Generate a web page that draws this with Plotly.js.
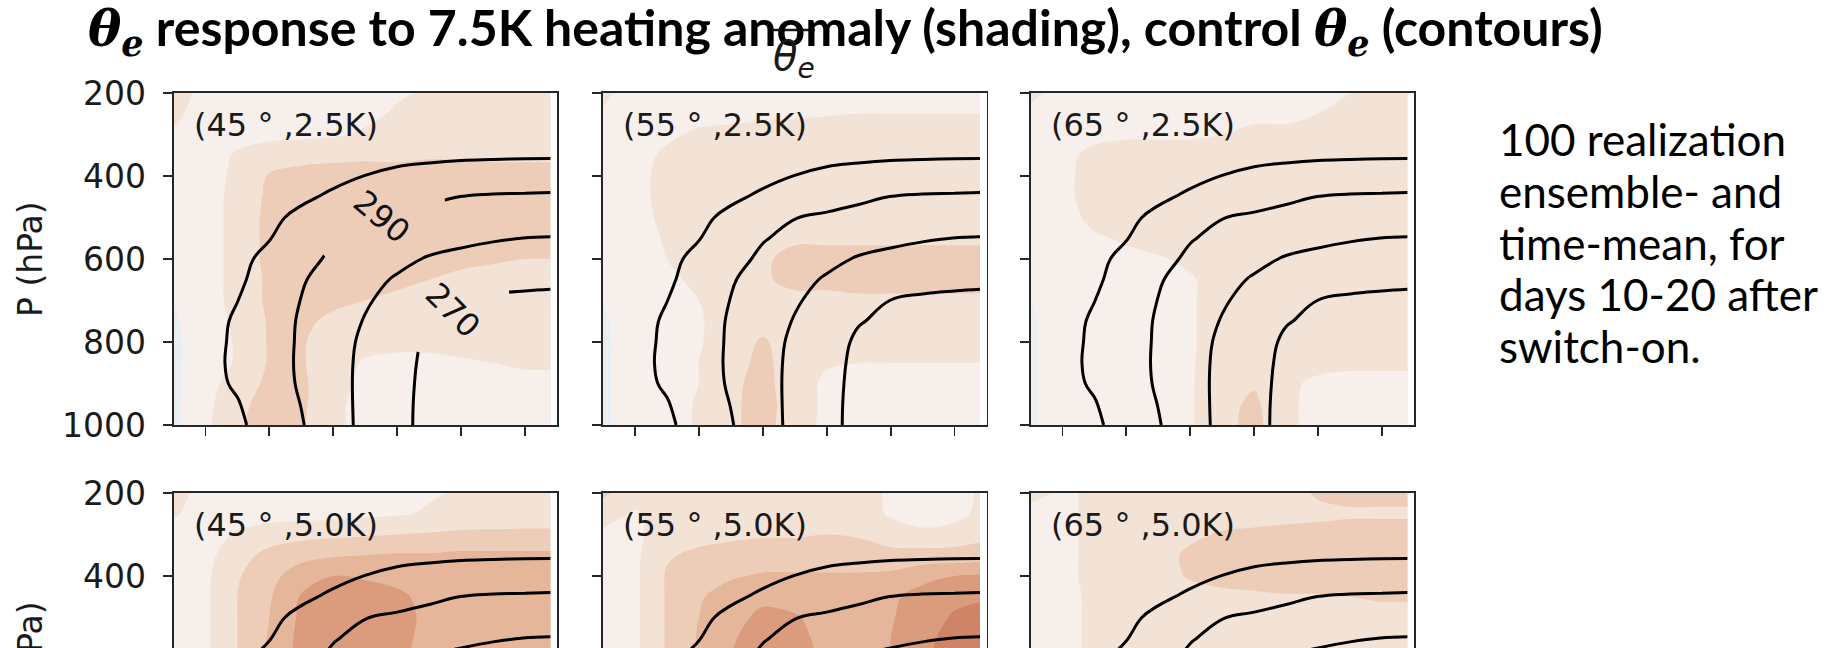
<!DOCTYPE html>
<html>
<head>
<meta charset="utf-8">
<script src="https://cdn.plot.ly/plotly-3.0.1.min.js"></script>
<style>
  html, body { margin: 0; padding: 0; background: #ffffff; }
  #chart { width: 1827px; height: 648px; }
</style>
</head>
<body>
<div id="chart"></div>
<script>
// ---------------- DATA ----------------
const lat = [15, 20, 25, 30, 35, 40, 45, 50, 55, 60, 65, 70, 74];
const presFull = [200, 250, 300, 350, 400, 450, 500, 550, 600, 650, 700, 750, 800, 850, 900, 950, 1000];
const presUpper = [200, 250, 300, 350, 400, 450, 500, 550, 600, 650];
const xTickVals = [20, 30, 40, 50, 60, 70];
const yTickVals = [200, 400, 600, 800, 1000];
const panelLabels = ['(45 ° ,2.5K)', '(55 ° ,2.5K)', '(65 ° ,2.5K)', '(45 ° ,5.0K)', '(55 ° ,5.0K)', '(65 ° ,5.0K)'];
const controlLevels = [270, 280, 290, 300];
const shadeLevels = [-0.5, 0, 0.5, 1.0, 1.5, 2.0, 2.5, 3.0];
const sideNote = ['100 realization', 'ensemble- and', 'time-mean, for', 'days 10-20 after', 'switch-on.'];
// contour labels of the first panel: level, latitude, pressure
const contourLabelText = ['290', '270'];
const contourLabelLat = [47.6, 58.6];
const contourLabelPres = [499, 724];

// control theta_e (K), rows = presFull, cols = lat
const thetaControl = [
  [307.5, 307.4, 307.3, 307.2, 307.0, 306.8, 306.5, 306.2, 306.0, 305.8, 305.6, 305.5, 305.5],
  [307.0, 306.9, 306.8, 306.6, 306.4, 306.1, 305.8, 305.4, 305.1, 304.8, 304.6, 304.5, 304.5],
  [306.5, 306.3, 306.1, 305.9, 305.6, 305.3, 304.8, 304.2, 303.7, 303.4, 303.2, 303.0, 303.0],
  [306.0, 305.6, 305.3, 305.0, 304.5, 304.0, 303.3, 302.5, 301.8, 301.4, 301.2, 301.0, 301.0],
  [305.5, 305.2, 304.8, 304.0, 303.5, 301.7, 299.9, 298.0, 297.0, 295.9, 295.4, 295.1, 294.8],
  [305.2, 304.8, 304.0, 303.0, 301.2, 298.9, 296.6, 294.3, 292.0, 289.9, 289.2, 289.0, 288.8],
  [305.0, 304.0, 303.0, 301.5, 298.4, 294.3, 290.2, 288.5, 286.7, 285.6, 284.7, 284.5, 284.2],
  [304.5, 303.5, 302.0, 300.3, 295.4, 290.5, 288.0, 286.0, 284.0, 282.2, 280.8, 279.9, 279.7],
  [304.5, 303.5, 302.0, 298.0, 292.7, 288.5, 285.5, 282.4, 279.2, 277.5, 276.2, 276.0, 275.7],
  [304.0, 303.0, 301.5, 296.1, 290.7, 286.7, 282.9, 279.0, 276.3, 273.9, 272.2, 272.0, 271.8],
  [303.5, 302.5, 300.1, 294.9, 289.8, 285.4, 280.9, 277.1, 273.5, 269.9, 269.0, 268.3, 267.9],
  [303.5, 302.5, 299.1, 294.1, 289.1, 284.3, 279.5, 275.0, 270.4, 268.5, 267.0, 266.2, 266.0],
  [303.5, 302.5, 298.7, 293.9, 288.9, 283.6, 278.4, 273.3, 268.8, 267.0, 265.8, 265.0, 264.5],
  [303.5, 302.5, 298.4, 293.7, 288.8, 283.4, 277.9, 272.3, 268.5, 266.5, 265.2, 264.0, 263.5],
  [303.5, 302.5, 299.0, 294.1, 289.0, 283.4, 277.7, 272.0, 268.3, 266.3, 265.0, 263.6, 263.0],
  [303.5, 302.5, 300.5, 295.3, 289.8, 283.7, 277.6, 271.8, 268.2, 266.2, 264.8, 263.3, 262.5],
  [304.0, 303.0, 301.5, 296.3, 290.6, 284.0, 277.6, 271.7, 268.2, 266.0, 264.5, 263.0, 262.0]
];

// theta_e response (K), 45 deg, 2.5K  (rows = presFull)
const anom45_25 = [
  [0.7, 0.35, 0.3, 0.3, 0.3, 0.3, 0.35, 0.45, 0.55, 0.65, 0.7, 0.7, 0.7],
  [0.6, 0.3, 0.3, 0.3, 0.3, 0.35, 0.4, 0.55, 0.65, 0.7, 0.75, 0.75, 0.75],
  [0.45, 0.3, 0.35, 0.4, 0.4, 0.45, 0.55, 0.7, 0.75, 0.8, 0.8, 0.8, 0.8],
  [0.35, 0.3, 0.55, 0.7, 0.8, 0.85, 0.9, 0.9, 0.95, 0.95, 0.95, 0.95, 0.95],
  [0.3, 0.3, 0.6, 1.05, 1.2, 1.25, 1.25, 1.2, 1.2, 1.15, 1.1, 1.1, 1.1],
  [0.3, 0.3, 0.65, 1.1, 1.3, 1.35, 1.35, 1.3, 1.3, 1.25, 1.2, 1.2, 1.2],
  [0.25, 0.3, 0.65, 1.15, 1.35, 1.4, 1.4, 1.35, 1.3, 1.3, 1.25, 1.25, 1.25],
  [0.2, 0.3, 0.65, 1.15, 1.35, 1.4, 1.4, 1.35, 1.3, 1.25, 1.2, 1.15, 1.15],
  [0.15, 0.3, 0.65, 1.15, 1.3, 1.35, 1.3, 1.25, 1.2, 1.1, 1.05, 1.0, 1.0],
  [0.1, 0.3, 0.65, 1.1, 1.25, 1.25, 1.2, 1.1, 1.0, 0.9, 0.85, 0.85, 0.85],
  [0.0, 0.3, 0.65, 1.1, 1.2, 1.1, 1.0, 0.9, 0.85, 0.8, 0.8, 0.8, 0.8],
  [-0.05, 0.25, 0.6, 1.05, 1.1, 0.9, 0.8, 0.75, 0.75, 0.75, 0.75, 0.75, 0.75],
  [-0.1, 0.25, 0.55, 1.05, 1.05, 0.75, 0.65, 0.6, 0.6, 0.65, 0.7, 0.7, 0.7],
  [-0.1, 0.25, 0.55, 1.05, 1.05, 0.7, 0.45, 0.4, 0.4, 0.45, 0.5, 0.55, 0.55],
  [-0.1, 0.3, 0.75, 1.1, 1.1, 0.65, 0.4, 0.35, 0.35, 0.35, 0.4, 0.4, 0.4],
  [-0.1, 0.35, 0.9, 1.15, 1.1, 0.6, 0.35, 0.3, 0.3, 0.3, 0.35, 0.35, 0.35],
  [-0.1, 0.4, 0.95, 1.15, 1.05, 0.6, 0.35, 0.3, 0.3, 0.3, 0.3, 0.3, 0.3]
];

// 55 deg, 2.5K
const anom55_25 = [
  [0.6, 0.3, 0.35, 0.35, 0.35, 0.35, 0.4, 0.4, 0.45, 0.45, 0.45, 0.45, 0.45],
  [0.45, 0.3, 0.35, 0.4, 0.4, 0.45, 0.45, 0.48, 0.5, 0.5, 0.5, 0.5, 0.5],
  [0.3, 0.35, 0.45, 0.55, 0.6, 0.6, 0.65, 0.65, 0.65, 0.65, 0.65, 0.65, 0.65],
  [0.3, 0.4, 0.55, 0.65, 0.7, 0.7, 0.7, 0.7, 0.7, 0.7, 0.7, 0.7, 0.7],
  [0.25, 0.4, 0.6, 0.7, 0.75, 0.75, 0.75, 0.75, 0.75, 0.75, 0.75, 0.75, 0.75],
  [0.2, 0.4, 0.6, 0.7, 0.75, 0.8, 0.8, 0.8, 0.8, 0.8, 0.8, 0.8, 0.8],
  [0.15, 0.35, 0.6, 0.7, 0.75, 0.8, 0.85, 0.85, 0.85, 0.85, 0.85, 0.85, 0.85],
  [0.1, 0.3, 0.55, 0.7, 0.75, 0.9, 0.95, 0.95, 0.95, 0.95, 0.95, 0.95, 0.95],
  [0.05, 0.3, 0.5, 0.65, 0.75, 0.95, 1.1, 1.1, 1.1, 1.1, 1.1, 1.1, 1.1],
  [0.0, 0.25, 0.4, 0.6, 0.75, 0.95, 1.1, 1.1, 1.1, 1.1, 1.1, 1.1, 1.1],
  [0.0, 0.2, 0.35, 0.5, 0.7, 0.8, 0.9, 0.9, 0.95, 0.95, 0.95, 0.95, 0.95],
  [-0.05, 0.2, 0.3, 0.45, 0.75, 0.85, 0.75, 0.7, 0.7, 0.7, 0.7, 0.7, 0.7],
  [-0.05, 0.15, 0.3, 0.45, 0.8, 1.05, 0.8, 0.65, 0.65, 0.65, 0.65, 0.65, 0.65],
  [-0.05, 0.15, 0.3, 0.5, 0.85, 1.1, 0.8, 0.55, 0.5, 0.5, 0.5, 0.5, 0.5],
  [-0.05, 0.15, 0.3, 0.5, 0.9, 1.15, 0.75, 0.4, 0.35, 0.35, 0.35, 0.35, 0.4],
  [-0.05, 0.15, 0.3, 0.55, 0.9, 1.2, 0.75, 0.4, 0.3, 0.3, 0.3, 0.3, 0.35],
  [-0.05, 0.15, 0.3, 0.55, 0.9, 1.2, 0.7, 0.4, 0.3, 0.3, 0.3, 0.3, 0.35]
];

// 65 deg, 2.5K
const anom65_25 = [
  [0.6, 0.35, 0.3, 0.3, 0.3, 0.3, 0.35, 0.35, 0.4, 0.45, 0.5, 0.55, 0.6],
  [0.4, 0.35, 0.35, 0.35, 0.4, 0.4, 0.4, 0.45, 0.45, 0.5, 0.55, 0.6, 0.6],
  [0.3, 0.35, 0.4, 0.45, 0.45, 0.45, 0.5, 0.55, 0.55, 0.6, 0.6, 0.65, 0.65],
  [0.3, 0.4, 0.6, 0.65, 0.65, 0.65, 0.65, 0.65, 0.65, 0.65, 0.65, 0.65, 0.65],
  [0.3, 0.4, 0.65, 0.7, 0.7, 0.7, 0.7, 0.7, 0.7, 0.7, 0.7, 0.7, 0.7],
  [0.25, 0.4, 0.65, 0.75, 0.75, 0.75, 0.75, 0.75, 0.75, 0.75, 0.75, 0.75, 0.75],
  [0.2, 0.35, 0.6, 0.75, 0.8, 0.8, 0.8, 0.8, 0.8, 0.8, 0.8, 0.8, 0.8],
  [0.15, 0.3, 0.45, 0.55, 0.7, 0.8, 0.8, 0.8, 0.8, 0.8, 0.8, 0.8, 0.8],
  [0.1, 0.25, 0.35, 0.4, 0.45, 0.6, 0.75, 0.8, 0.8, 0.8, 0.8, 0.8, 0.8],
  [0.05, 0.25, 0.35, 0.4, 0.4, 0.45, 0.7, 0.8, 0.8, 0.8, 0.8, 0.8, 0.8],
  [0.0, 0.2, 0.35, 0.4, 0.4, 0.45, 0.7, 0.8, 0.8, 0.8, 0.8, 0.8, 0.8],
  [-0.05, 0.2, 0.35, 0.4, 0.4, 0.45, 0.7, 0.8, 0.8, 0.8, 0.8, 0.8, 0.8],
  [-0.05, 0.2, 0.3, 0.4, 0.4, 0.45, 0.7, 0.8, 0.8, 0.75, 0.75, 0.75, 0.75],
  [-0.05, 0.2, 0.3, 0.4, 0.4, 0.45, 0.75, 0.85, 0.75, 0.65, 0.6, 0.6, 0.6],
  [-0.05, 0.2, 0.3, 0.4, 0.4, 0.45, 0.8, 0.95, 0.6, 0.4, 0.35, 0.35, 0.35],
  [-0.05, 0.2, 0.3, 0.4, 0.4, 0.45, 0.85, 1.1, 0.6, 0.35, 0.3, 0.3, 0.3],
  [-0.05, 0.2, 0.3, 0.4, 0.4, 0.45, 0.85, 1.15, 0.6, 0.35, 0.3, 0.3, 0.3]
];

// 45 deg, 5.0K (rows = presUpper)
const anom45_50 = [
  [0.7, 0.3, 0.25, 0.25, 0.25, 0.25, 0.3, 0.35, 0.45, 0.55, 0.65, 0.7, 0.7],
  [0.55, 0.3, 0.3, 0.3, 0.3, 0.35, 0.4, 0.45, 0.55, 0.65, 0.7, 0.75, 0.75],
  [0.35, 0.3, 0.55, 0.75, 0.85, 0.9, 0.95, 1.0, 1.05, 1.1, 1.1, 1.1, 1.1],
  [0.3, 0.35, 0.8, 1.15, 1.35, 1.45, 1.5, 1.55, 1.55, 1.6, 1.6, 1.6, 1.6],
  [0.25, 0.4, 0.95, 1.35, 1.75, 2.0, 1.95, 1.85, 1.75, 1.7, 1.7, 1.7, 1.7],
  [0.2, 0.4, 1.0, 1.45, 2.05, 2.2, 2.2, 2.1, 1.85, 1.8, 1.8, 1.8, 1.8],
  [0.15, 0.4, 1.0, 1.5, 2.1, 2.25, 2.25, 2.15, 1.9, 1.85, 1.85, 1.85, 1.85],
  [0.1, 0.4, 1.0, 1.55, 2.15, 2.25, 2.25, 2.1, 1.9, 1.85, 1.85, 1.85, 1.85],
  [0.05, 0.4, 1.0, 1.6, 2.15, 2.25, 2.2, 2.05, 1.9, 1.85, 1.85, 1.85, 1.85],
  [0.0, 0.4, 1.0, 1.6, 2.1, 2.2, 2.2, 2.0, 1.9, 1.8, 1.8, 1.8, 1.8]
];

// 55 deg, 5.0K
const anom55_50 = [
  [1.1, 0.7, 0.65, 0.7, 0.7, 0.7, 0.7, 0.7, 0.65, 0.45, 0.3, 0.35, 0.55],
  [0.7, 0.45, 0.7, 0.75, 0.8, 0.8, 0.8, 0.8, 0.7, 0.45, 0.3, 0.35, 0.6],
  [0.4, 0.4, 0.75, 0.85, 0.9, 0.95, 0.95, 1.0, 0.95, 0.7, 0.6, 0.7, 0.85],
  [0.35, 0.4, 0.95, 1.1, 1.2, 1.25, 1.25, 1.25, 1.25, 1.2, 1.2, 1.2, 1.25],
  [0.3, 0.4, 1.05, 1.3, 1.45, 1.55, 1.55, 1.55, 1.55, 1.6, 1.85, 2.0, 2.05],
  [0.25, 0.4, 1.05, 1.45, 1.7, 1.9, 1.8, 1.7, 1.7, 1.9, 2.2, 2.4, 2.45],
  [0.2, 0.4, 1.05, 1.5, 1.85, 2.1, 2.05, 1.8, 1.75, 1.95, 2.3, 2.55, 2.65],
  [0.15, 0.4, 1.05, 1.55, 1.95, 2.2, 2.15, 1.85, 1.8, 2.0, 2.35, 2.7, 2.8],
  [0.1, 0.4, 1.05, 1.55, 2.0, 2.25, 2.2, 1.9, 1.8, 2.0, 2.4, 2.75, 2.85],
  [0.05, 0.4, 1.05, 1.55, 2.0, 2.25, 2.2, 1.9, 1.8, 2.0, 2.4, 2.75, 2.85]
];

// 65 deg, 5.0K
const anom65_50 = [
  [0.6, 0.45, 0.55, 0.6, 0.65, 0.7, 0.7, 0.75, 0.85, 1.05, 1.1, 1.1, 1.1],
  [0.4, 0.4, 0.6, 0.65, 0.7, 0.75, 0.75, 0.8, 0.85, 0.9, 0.95, 0.95, 0.95],
  [0.35, 0.4, 0.6, 0.7, 0.75, 0.9, 1.05, 1.1, 1.15, 1.15, 1.15, 1.15, 1.15],
  [0.3, 0.4, 0.6, 0.7, 0.8, 1.1, 1.25, 1.3, 1.3, 1.3, 1.3, 1.3, 1.3],
  [0.25, 0.4, 0.6, 0.7, 0.8, 1.05, 1.2, 1.25, 1.3, 1.3, 1.3, 1.3, 1.3],
  [0.2, 0.35, 0.6, 0.7, 0.75, 0.8, 0.85, 0.9, 0.95, 0.95, 1.0, 1.05, 1.05],
  [0.15, 0.35, 0.6, 0.7, 0.7, 0.75, 0.75, 0.8, 0.8, 0.8, 0.85, 0.85, 0.85],
  [0.1, 0.35, 0.6, 0.7, 0.7, 0.7, 0.75, 0.75, 0.75, 0.75, 0.8, 0.8, 0.8],
  [0.1, 0.35, 0.6, 0.7, 0.7, 0.7, 0.75, 0.75, 0.75, 0.75, 0.8, 0.8, 0.8],
  [0.1, 0.35, 0.6, 0.7, 0.7, 0.7, 0.75, 0.75, 0.75, 0.75, 0.8, 0.8, 0.8]
];

// ---------------- STYLE / LAYOUT ----------------
const W = 1827, H = 648;
const px = v => v / W;
const py = v => 1 - v / H;

// one colour per filled band (below -0.5, then each 0.5 K band, then above 3.0)
const bandColors = ['#dfe7ef', '#e9eef3', '#f6efeb', '#f3e2d6', '#edcdb7', '#e5b699', '#db9c7e', '#cf8367', '#c26c54'];
const fillScale = bandColors.map((c, i) => [i / (bandColors.length - 1), c]);

const colLeft = [173.5, 603, 1030.5];
const colRight = [557, 986.5, 1414];
const rowTop = [93, 493];
const topRowBottom = 425;
const lowerRange = 200 + (H - rowTop[1]) / (topRowBottom - rowTop[0]) * 800;

const anomData = [anom45_25, anom55_25, anom65_25, anom45_50, anom55_50, anom65_50];
const axisFont = { family: 'DejaVu Sans', size: 33, color: '#1a1a1a' };
const spine = '#262626';
const lineStyle = { color: '#000000', width: 3, smoothing: 1.2 };

const traces = [];
const layout = {
  width: W, height: H,
  margin: { l: 0, r: 0, t: 0, b: 0, autoexpand: false },
  paper_bgcolor: '#ffffff', plot_bgcolor: '#ffffff',
  showlegend: false, hovermode: false,
  font: { family: 'DejaVu Sans', color: '#1a1a1a' },
  title: {
    text: '<b><span style="font-family:\'DejaVu Serif\'"><i>θ</i><sub><i>e</i></sub></span> response to 7.5K heating anomaly (shading), control <span style="font-family:\'DejaVu Serif\'"><i>θ</i><sub><i>e</i></sub></span> (contours)</b>',
    font: { family: 'Lato', size: 50, color: '#000000' },
    xref: 'container', yref: 'container',
    x: px(88), xanchor: 'left',
    y: py(28), yanchor: 'middle'
  },
  annotations: [],
  shapes: []
};

for (let i = 0; i < 6; i++) {
  const row = i < 3 ? 0 : 1;
  const col = i % 3;
  const n = i + 1;
  const xa = 'x' + (n === 1 ? '' : n);
  const ya = 'y' + (n === 1 ? '' : n);
  const xName = 'xaxis' + (n === 1 ? '' : n);
  const yName = 'yaxis' + (n === 1 ? '' : n);
  const pres = row === 0 ? presFull : presUpper;

  traces.push({
    type: 'contour', x: lat, y: pres, z: anomData[i],
    xaxis: xa, yaxis: ya,
    autocontour: false,
    contours: { start: shadeLevels[0], end: shadeLevels[shadeLevels.length - 1], size: shadeLevels[1] - shadeLevels[0], coloring: 'fill', showlines: false },
    colorscale: fillScale, showscale: false,
    line: { width: 0, smoothing: 1.0 },
    hoverinfo: 'skip'
  });

  traces.push({
    type: 'contour', x: lat, y: presFull, z: thetaControl, xaxis: xa, yaxis: ya,
    autocontour: false,
    contours: { start: controlLevels[0], end: controlLevels[3], size: controlLevels[1] - controlLevels[0], coloring: 'none' },
    line: lineStyle, showscale: false, hoverinfo: 'skip'
  });

  const top = rowTop[row];
  const bottom = row === 0 ? topRowBottom : H;
  layout[xName] = {
    domain: [px(colLeft[col]), px(colRight[col])],
    range: [15, 75], autorange: false, anchor: ya,
    tickvals: xTickVals, showticklabels: false,
    ticks: row === 0 ? 'outside' : '', ticklen: 9, tickwidth: 1.8, tickcolor: spine,
    showline: true, linecolor: spine, linewidth: 1.8,
    mirror: row === 0 ? true : false, side: row === 0 ? 'bottom' : 'top',
    showgrid: false, zeroline: false
  };
  layout[yName] = {
    domain: [py(bottom), py(top)],
    range: row === 0 ? [1000, 200] : [lowerRange, 200], autorange: false, anchor: xa,
    tickvals: yTickVals, ticktext: yTickVals.map(String), showticklabels: col === 0,
    tickfont: axisFont, ticklabelstandoff: 10,
    ticks: 'outside', ticklen: 9, tickwidth: 1.8, tickcolor: spine,
    showline: true, linecolor: spine, linewidth: 1.8, mirror: true,
    showgrid: false, zeroline: false
  };

  layout.annotations.push({
    xref: 'paper', yref: 'paper', x: px(colLeft[col] + 18), y: py(top + 32),
    xanchor: 'left', yanchor: 'middle', showarrow: false,
    text: panelLabels[i], font: { family: 'DejaVu Sans', size: 32, color: '#1a1a1a' }
  });

  if (col === 0) {
    const center = top + (topRowBottom - rowTop[0]) / 2;
    layout.annotations.push({
      xref: 'paper', yref: 'paper', x: px(30), y: py(center),
      xanchor: 'center', yanchor: 'middle', showarrow: false, textangle: -90,
      text: 'P (hPa)', font: { family: 'DejaVu Sans', size: 33, color: '#1a1a1a' }
    });
  }
}

// inline contour labels of the first panel: gap in the line under each label
layout.shapes.push({
  type: 'path', xref: 'x', yref: 'y', layer: 'above',
  path: 'M57.5,465 L55,469 L50,486 L46,499 L43,522 L41,550 L39.5,580 L38.6,592',
  line: { color: bandColors[4], width: 14 }
});
layout.shapes.push({
  type: 'path', xref: 'x', yref: 'y', layer: 'above',
  path: 'M53.3,824 L53.7,800 L55,762 L57,738 L60,699 L63,689 L67.5,680',
  line: { color: bandColors[3], width: 14 }
});
contourLabelText.forEach((t, k) => {
  layout.annotations.push({
    xref: 'x', yref: 'y', x: contourLabelLat[k], y: contourLabelPres[k],
    xanchor: 'center', yanchor: 'middle', showarrow: false, textangle: 40 + 5 * k,
    text: t, font: { family: 'DejaVu Sans', size: 32, color: '#111111' }
  });
});

// overlined theta_e above the middle panel
layout.annotations.push({
  xref: 'paper', yref: 'paper', x: px(794), y: py(59),
  xanchor: 'center', yanchor: 'middle', showarrow: false,
  text: '<i>θ</i><sub><i>e</i></sub>', font: { family: 'DejaVu Sans', size: 40, color: '#1a1a1a' }
});
layout.shapes.push({
  type: 'line', xref: 'paper', yref: 'paper',
  x0: px(771), x1: px(815), y0: py(30), y1: py(30),
  line: { color: '#1a1a1a', width: 2.4 }
});

// side note text
const noteCenters = [139, 191, 243, 294, 346];
sideNote.forEach((t, k) => {
  layout.annotations.push({
    xref: 'paper', yref: 'paper', x: px(1497), y: py(noteCenters[k]),
    xanchor: 'left', yanchor: 'middle', showarrow: false,
    text: t, font: { family: 'Lato', size: 44, color: '#000000' }
  });
});

Plotly.newPlot('chart', traces, layout, { staticPlot: true, displayModeBar: false });
</script>
</body>
</html>
